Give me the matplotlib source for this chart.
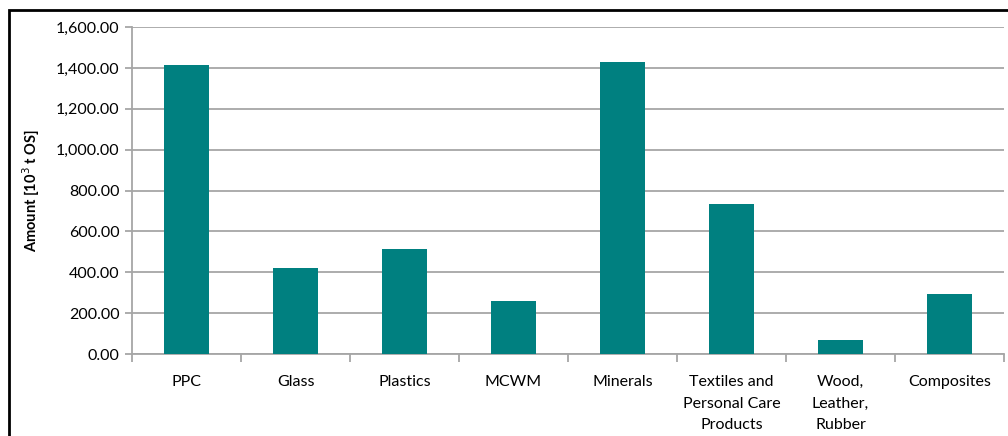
import matplotlib.pyplot as plt
from matplotlib.patches import Rectangle
from matplotlib.ticker import FuncFormatter, FixedLocator

categories = ['PPC', 'Glass', 'Plastics', 'MCWM', 'Minerals',
              'Textiles and\nPersonal Care\nProducts', 'Wood,\nLeather,\nRubber', 'Composites']
amounts = [1415, 421, 515, 260, 1428, 735, 68, 295]

plt.rcParams['font.family'] = ['Lato', 'DejaVu Sans']

fig = plt.figure(figsize=(10.08, 4.36), dpi=100)
ax = fig.add_axes([0.131, 0.188, 0.865, 0.75])

x = list(range(len(categories)))
ax.bar(x, amounts, width=0.41, color='#008080', zorder=3)

ax.set_xlim(-0.5, len(categories) - 0.5)
ax.set_ylim(0, 1600)
ax.set_yticks(range(0, 1601, 200))
ax.yaxis.set_major_formatter(FuncFormatter(lambda v, p: f'{v:,.2f}'))
ax.grid(axis='y', color='#a6a6a6', linewidth=1.3, zorder=0)

ax.set_xticks(x)
ax.set_xticklabels(categories, fontsize=11.5, linespacing=1.7, va='top')
ax.tick_params(axis='x', length=0, pad=15)
ax.xaxis.set_minor_locator(FixedLocator([i - 0.5 for i in range(len(categories) + 1)]))
ax.tick_params(axis='x', which='minor', length=6, color='#a6a6a6', width=1.3)
ax.tick_params(axis='y', labelsize=11.5, length=5, color='#a6a6a6', width=1.3, pad=4)

for side in ['top', 'right']:
    ax.spines[side].set_visible(False)
for side in ['left', 'bottom']:
    ax.spines[side].set_color('#a6a6a6')
    ax.spines[side].set_linewidth(1.3)

ax.set_ylabel('Amount [10$^3$ t OS]', fontsize=10.5, fontweight='bold', labelpad=10)

# outer chart frame (cut at right and bottom in the reference)
fig.patches.append(Rectangle((9 / 1008, -0.1), 1.2, 1.1 - 10 / 436,
                             transform=fig.transFigure, fill=False,
                             edgecolor='black', linewidth=2, zorder=10))

fig.savefig('out.png', dpi=100)
